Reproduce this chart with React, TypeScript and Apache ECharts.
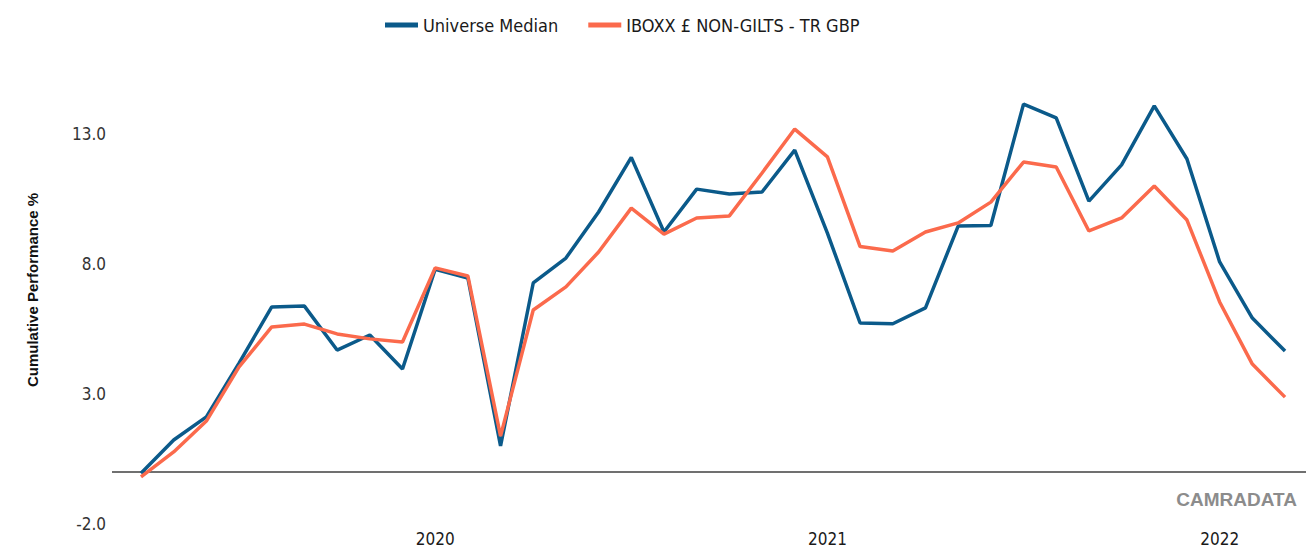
import React, { useEffect, useRef } from "react";
import * as echarts from "echarts";

const months: string[] = [
  "2019-04", "2019-05", "2019-06", "2019-07", "2019-08", "2019-09", "2019-10", "2019-11", "2019-12",
  "2020-01", "2020-02", "2020-03", "2020-04", "2020-05", "2020-06", "2020-07", "2020-08", "2020-09",
  "2020-10", "2020-11", "2020-12", "2021-01", "2021-02", "2021-03", "2021-04", "2021-05", "2021-06",
  "2021-07", "2021-08", "2021-09", "2021-10", "2021-11", "2021-12", "2022-01", "2022-02", "2022-03",
];

const universeMedian: number[] = [
  -0.05, 1.23, 2.12, 4.19, 6.35, 6.38, 4.69, 5.27, 3.96, 7.8, 7.46, 1.0,
  7.27, 8.23, 10.0, 12.1, 9.23, 10.88, 10.69, 10.77, 12.38, 9.19, 5.73, 5.7,
  6.31, 9.46, 9.48, 14.15, 13.62, 10.42, 11.81, 14.08, 12.04, 8.08, 5.92, 4.65,
];

const iboxx: number[] = [
  -0.19, 0.77, 1.96, 4.04, 5.58, 5.69, 5.31, 5.12, 5.0, 7.85, 7.54, 1.38,
  6.23, 7.12, 8.46, 10.15, 9.15, 9.77, 9.85, 11.5, 13.19, 12.12, 8.67, 8.5,
  9.23, 9.58, 10.38, 11.92, 11.73, 9.27, 9.77, 11.0, 9.69, 6.54, 4.15, 2.88,
];

const yearTickIndices: number[] = [9, 21, 33];
const seriesNames: string[] = ["Universe Median", "IBOXX £ NON-GILTS - TR GBP"];

const NARROW = "'Liberation Sans Narrow', 'Arial Narrow', 'DejaVu Sans Condensed', sans-serif";

export default function App() {
  const ref = useRef<HTMLDivElement>(null);
  useEffect(() => {
    if (!ref.current) return;
    const chart = echarts.init(ref.current, null, { renderer: "svg" });
    const toPairs = (arr: number[]) => arr.map((v, i) => [i, v]);
    chart.setOption({
      animation: false,
      backgroundColor: "#ffffff",
      legend: {
        left: 380,
        top: 11,
        icon: "rect",
        itemWidth: 33,
        itemHeight: 5,
        itemGap: 30,
        textStyle: { fontFamily: NARROW, fontSize: 18, color: "#1a1a1a" },
        data: seriesNames,
      },
      grid: { left: 112, right: 0, top: 56, bottom: 29, containLabel: false },
      xAxis: {
        type: "value",
        min: -0.887,
        max: 35.642,
        axisLine: { show: false },
        axisTick: { show: false },
        splitLine: { show: false },
        axisLabel: {
          customValues: yearTickIndices,
          formatter: (v: number) => months[Math.round(v)].slice(0, 4),
          fontFamily: NARROW,
          fontSize: 17,
          color: "#1a1a1a",
          margin: 6,
        },
      },
      yAxis: {
        type: "value",
        min: -2,
        max: 16,
        interval: 5,
        name: "Cumulative Performance %",
        nameLocation: "middle",
        nameGap: 72,
        nameTextStyle: { fontFamily: "'Liberation Sans', Arial, sans-serif", fontWeight: "bold", fontSize: 15, color: "#111" },
        axisLine: { show: false },
        axisTick: { show: false },
        splitLine: { show: false },
        axisLabel: {
          showMaxLabel: false,
          formatter: (v: number) => v.toFixed(1),
          fontFamily: NARROW,
          fontSize: 17,
          color: "#333",
          margin: 6,
        },
      },
      series: [
        {
          name: seriesNames[0],
          type: "line",
          data: toPairs(universeMedian),
          symbol: "none",
          lineStyle: { color: "#0b5a8a", width: 3.5 },
          itemStyle: { color: "#0b5a8a" },
          z: 3,
          markLine: {
            silent: true,
            symbol: "none",
            label: { show: false },
            lineStyle: { color: "#404040", width: 1.5, type: "solid" },
            data: [{ yAxis: 0 }],
            z: 1,
          },
        },
        {
          name: seriesNames[1],
          type: "line",
          data: toPairs(iboxx),
          symbol: "none",
          lineStyle: { color: "#fb6a4c", width: 3.5 },
          itemStyle: { color: "#fb6a4c" },
          z: 4,
        },
      ],
      graphic: [
        {
          type: "text",
          right: 9,
          top: 490,
          style: {
            text: "CAMRADATA",
            fontFamily: "'Liberation Sans', Arial, sans-serif",
            fontWeight: "bold",
            fontSize: 19,
            fill: "#8c8c8c",
          },
        },
      ],
    });
    return () => chart.dispose();
  }, []);
  return <div ref={ref} style={{ position: "fixed", left: 0, top: 0, width: 1306, height: 553 }} />;
}
